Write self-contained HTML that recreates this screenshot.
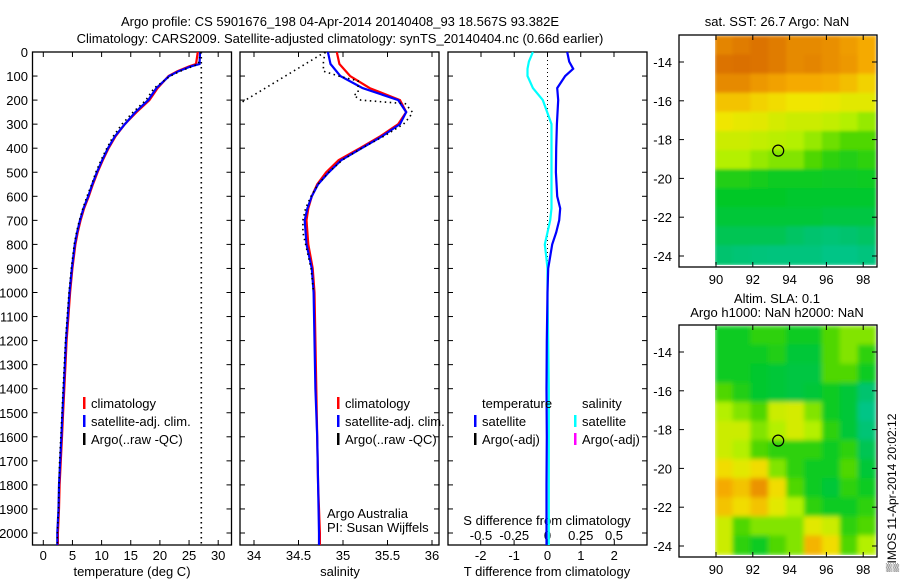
<!DOCTYPE html>
<html><head><meta charset="utf-8"><style>
body{margin:0;background:#fff;}
svg{display:block;font-family:"Liberation Sans",sans-serif;}
text{fill:#000;font-size:13px;}
</style></head><body>
<svg id="s" width="900" height="580" viewBox="0 0 900 580">
<text x="340" y="26" text-anchor="middle">Argo profile: CS 5901676_198 04-Apr-2014 20140408_93 18.567S 93.382E</text>
<text x="340" y="43" text-anchor="middle">Climatology: CARS2009. Satellite-adjusted climatology: synTS_20140404.nc (0.66d earlier)</text>
<text x="777" y="26" text-anchor="middle">sat. SST: 26.7 Argo: NaN</text>
<text x="777" y="303" text-anchor="middle">Altim. SLA: 0.1</text>
<text x="777" y="317" text-anchor="middle">Argo h1000: NaN h2000: NaN</text>
<text transform="translate(896,572) rotate(-90)" style="font-size:12px">▒IMOS 11-Apr-2014 20:02:12</text>
<g id="g"></g>
</svg>
<script>
// ---- data ----
const depthT = [0,50,60,80,100,150,200,250,300,350,400,450,500,550,600,650,700,750,800,900,1000,1100,1200,1300,1400,1500,1600,1700,1800,1900,2000,2050];
const tempClim = [26.5,26.2,25,23,21.5,19.6,18.2,16,14,12.4,11.2,10.2,9.3,8.5,7.8,7.0,6.4,5.9,5.5,5.0,4.6,4.3,4.0,3.8,3.6,3.4,3.2,3.0,2.8,2.7,2.5,2.5];
const tempSat = [26.9,26.8,25.3,23.2,21.6,19.4,18.0,15.8,14.0,12.3,11.1,10.1,9.2,8.4,7.7,6.9,6.3,5.8,5.4,4.9,4.5,4.2,3.9,3.7,3.5,3.3,3.1,2.9,2.7,2.6,2.4,2.4];
const tempArgo = [27.0,26.6,25.6,23.5,21.8,19.0,17.6,15.4,13.5,12.0,10.9,9.9,9.0,8.3,7.5,6.8,6.2,5.7,5.3,4.8,4.4,4.1,3.8,3.6,3.4,3.2,3.0,2.8,2.7,2.6,2.4,2.4];
const depthArgoQC = [0,2050];
const tempArgoQC = [27.1,27.1];
const depthS = [0,50,100,150,200,250,300,350,400,450,500,550,600,650,700,800,900,1000,1200,1400,1600,1800,2000,2050];
const salClim = [34.93,34.96,35.08,35.30,35.64,35.71,35.62,35.42,35.19,34.95,34.81,34.71,34.65,34.61,34.59,34.61,34.66,34.68,34.69,34.70,34.71,34.72,34.74,34.74];
const salSat = [34.83,34.86,34.97,35.22,35.62,35.71,35.64,35.44,35.21,34.98,34.84,34.72,34.65,34.60,34.57,34.59,34.65,34.67,34.68,34.69,34.71,34.72,34.73,34.73];
const depthSA = [0,40,80,100,120,170,180,200,215,250,270,300,350,400,450,500,550,600,650,700,750,800,900,1000];
const salArgo = [34.80,34.78,34.78,34.95,35.17,35.17,35.12,35.20,35.70,35.78,35.75,35.68,35.46,35.21,34.99,34.84,34.72,34.64,34.58,34.55,34.55,34.58,34.64,34.67];
const depthSRaw = [0,210];
const salRaw = [34.8,33.86];
const depthD = [0,40,70,100,150,200,300,400,500,600,650,700,750,800,850,900,1000,1200,1400,1600,1800,2000,2050];
const tDiff = [0.59,0.65,0.77,0.53,0.29,0.32,0.28,0.26,0.25,0.29,0.38,0.35,0.26,0.14,0.08,0.02,0.0,-0.02,-0.03,-0.02,-0.03,-0.03,-0.03];
const sDiff = [-0.11,-0.14,-0.15,-0.15,-0.11,-0.035,0.03,0.03,0.03,0.03,0.03,0.02,0.0,-0.02,-0.01,0.0,0.0,0.005,0.01,0.01,0.01,0.01,0.01];
const depthTicks = [0,100,200,300,400,500,600,700,800,900,1000,1100,1200,1300,1400,1500,1600,1700,1800,1900,2000];
const tTicks = [0,5,10,15,20,25,30];
const sTicks = [34,34.5,35,35.5,36];
const sTickLabels = ["34","34.5","35","35.5","36"];
const dTTicks = [-2,-1,0,1,2];
const dSTicks = [-0.5,-0.25,0,0.25,0.5];
const dSTickLabels = ["-0.5","-0.25","0","0.25","0.5"];
const lonTicks = [90,92,94,96,98];
const latTicks = [-14,-16,-18,-20,-22,-24];
const sstGrid = [
[.88,.9,.92,.9,.87,.87,.86,.83,.8],
[.92,.93,.92,.9,.87,.88,.86,.84,.8],
[.87,.87,.84,.82,.8,.8,.79,.76,.72],
[.75,.75,.72,.7,.68,.68,.67,.65,.65],
[.68,.66,.65,.62,.6,.6,.58,.55,.52],
[.6,.6,.58,.56,.55,.52,.48,.45,.45],
[.55,.55,.52,.5,.5,.45,.4,.38,.4],
[.38,.38,.36,.35,.35,.35,.34,.34,.35],
[.33,.33,.33,.33,.32,.32,.32,.32,.32],
[.3,.3,.3,.3,.3,.3,.28,.28,.28],
[.25,.25,.25,.25,.22,.2,.18,.2,.22],
[.2,.18,.16,.15,.15,.15,.12,.12,.15]];
const slaGrid = [
[.35,.35,.4,.4,.35,.35,.45,.5,.5],
[.35,.35,.35,.38,.3,.3,.45,.5,.4],
[.35,.35,.32,.3,.28,.28,.45,.45,.35],
[.45,.38,.32,.3,.28,.3,.35,.3,.2],
[.55,.5,.45,.6,.62,.5,.35,.3,.12],
[.6,.6,.5,.55,.62,.55,.4,.3,.18],
[.6,.55,.45,.4,.4,.4,.35,.4,.25],
[.7,.65,.7,.5,.4,.35,.35,.45,.3],
[.8,.75,.85,.7,.45,.35,.3,.4,.35],
[.75,.7,.75,.65,.55,.4,.35,.35,.4],
[.6,.45,.5,.5,.5,.65,.6,.4,.45],
[.6,.4,.35,.45,.5,.78,.7,.45,.55]];
const argoLon = [93.38];
const argoLat = [-18.57];

// ---- helpers ----
const NS="http://www.w3.org/2000/svg";
const G=document.getElementById('g');
function mk(tag,attrs,parent){const e=document.createElementNS(NS,tag);for(const k in attrs)e.setAttribute(k,attrs[k]);(parent||G).appendChild(e);return e;}
const Y=d=>52+d*0.2405;
const XT=t=>43.3+t*5.83;
const XS=s=>254+(s-34)*89;
const XDT=v=>547.5+v*33.4;
const XDS=v=>547.5+v*133;

function box(x0,x1,y0,y1,name){const r=mk('rect',{x:x0,y:y0,width:x1-x0,height:y1-y0,fill:'none',stroke:'#000','stroke-width':1.3});}
function line(xs,ds,xf,color,w,dash,name){
  const pts=ds.map((d,i)=>xf(xs[i]).toFixed(1)+','+Y(d).toFixed(1)).join(' ');
  const p=mk('polyline',{points:pts,fill:'none',stroke:color,'stroke-width':w});
  if(dash)p.setAttribute('stroke-dasharray',dash);
  
  
}
function txt(x,y,s,anchor,name,size){const t=mk('text',{x:x,y:y,'text-anchor':anchor||'start'});if(size)t.style.fontSize=size+'px';t.textContent=s;return t;}
function tick(x1,y1,x2,y2){const l=mk('line',{x1:x1,y1:y1,x2:x2,y2:y2,stroke:'#000','stroke-width':1});}

const TOP=52,BOT=545;
const panels=[[32.5,231.5],[240,439],[448,647]];
panels.forEach((p,i)=>{
  box(p[0],p[1],TOP,BOT,'profile-panel-'+(i+1));
  depthTicks.forEach(d=>{tick(p[0],Y(d),p[0]+5,Y(d));tick(p[1],Y(d),p[1]-5,Y(d));});
});
depthTicks.forEach(d=>txt(28,Y(d)+5,String(d),'end','depth-tick-label'));
// panel 1
tTicks.forEach(t=>{tick(XT(t),BOT,XT(t),BOT-5);tick(XT(t),TOP,XT(t),TOP+5);txt(XT(t),560,String(t),'middle','temp-tick-label');});
txt(132,576,'temperature (deg C)','middle','temp-axis-title');
line(tempArgoQC,depthArgoQC,XT,'#000',1.6,'1.5,3.5','argo-qc-temp-line');
line(tempClim,depthT,XT,'#f00',2.2,null,'temp-climatology-line');
line(tempSat,depthT,XT,'#00f',2.2,null,'temp-satellite-line');
line(tempArgo,depthT,XT,'#000',1.6,'1.5,3.5','temp-argo-line');
// panel 2
sTicks.forEach((s,i)=>{tick(XS(s),BOT,XS(s),BOT-5);tick(XS(s),TOP,XS(s),TOP+5);txt(XS(s),560,sTickLabels[i],'middle','sal-tick-label');});
txt(340,576,'salinity','middle','sal-axis-title');
line(salRaw,depthSRaw,XS,'#000',1.6,'1.5,3.5','sal-argo-raw-line');
line(salClim,depthS,XS,'#f00',2.2,null,'sal-climatology-line');
line(salSat,depthS,XS,'#00f',2.2,null,'sal-satellite-line');
line(salArgo,depthSA,XS,'#000',1.6,'1.5,3.5','sal-argo-line');
txt(327,518,'Argo Australia','start','credit-line-1');
txt(327,532,'PI: Susan Wijffels','start','credit-line-2');
// panel 3
dTTicks.forEach(v=>{tick(XDT(v),BOT,XDT(v),BOT-5);txt(XDT(v),560,String(v),'middle','tdiff-tick-label');});
dSTicks.forEach((v,i)=>{tick(XDS(v),TOP,XDS(v),TOP+5);txt(XDS(v),540,dSTickLabels[i],'middle','sdiff-tick-label');});
txt(547,525,'S difference from climatology','middle','sdiff-axis-title');
txt(547,576,'T difference from climatology','middle','tdiff-axis-title');
line([0,0],[0,880],XDT,'#000',1,'1,3','zero-line');
line(sDiff,depthD,XDS,'#0ff',2.2,null,'sdiff-satellite-line');
line(tDiff,depthD,XDT,'#00f',2.2,null,'tdiff-satellite-line');
// legends
function leg(mx,tx,y,color,label,name){const r=mk('rect',{x:mx-1,y:y-11,width:2.5,height:12,fill:color});txt(tx,y,label,'start',name);}
[[84,91],[338,345]].forEach(([m,t],i)=>{
  leg(m,t,408,'#f00','climatology','legend-climatology-'+(i+1));
  leg(m,t,426,'#00f','satellite-adj. clim.','legend-satellite-'+(i+1));
  leg(m,t,444,'#000','Argo(..raw -QC)','legend-argo-'+(i+1));
});
txt(482,408,'temperature','start','legend-temperature-heading');
txt(582,408,'salinity','start','legend-salinity-heading');
leg(475,482,426,'#00f','satellite','legend-t-satellite');
leg(475,482,444,'#000','Argo(-adj)','legend-t-argo');
leg(575,582,426,'#0ff','satellite','legend-s-satellite');
leg(575,582,444,'#f0f','Argo(-adj)','legend-s-argo');

// ---- maps ----
function cmap(v){
  const stops=[[0,[0,200,170]],[0.2,[0,195,110]],[0.33,[0,200,40]],[0.45,[80,215,0]],[0.55,[180,240,0]],[0.68,[240,230,0]],[0.8,[245,170,0]],[0.92,[220,115,0]],[1,[200,90,0]]];
  for(let i=1;i<stops.length;i++){if(v<=stops[i][0]){const a=stops[i-1],b=stops[i],f=(v-a[0])/(b[0]-a[0]);return 'rgb('+a[1].map((c,j)=>Math.round(c+(b[1][j]-c)*f)).join(',')+')';}}
  return 'rgb(200,90,0)';
}
function map(y0,y1,grid,name,lat14,lat24,blur){
  const X=l=>716+(l-90)*18.4;
  const LY=la=>lat14+(la+14)*(lat24-lat14)/(-10);
  const gx0=715,gx1=876,gy0=y0+1,gy1=y1-2;
  const rows=grid.length,cols=grid[0].length;
  const cw=(gx1-gx0)/cols,ch=(gy1-gy0)/rows;
  const clip=mk('clipPath',{id:'c'+name});mk('rect',{x:gx0,y:gy0,width:gx1-gx0,height:gy1-gy0},clip);
  const g=mk('g',{'clip-path':'url(#c'+name+')'});
  const gi=mk('g',blur?{filter:'url(#b'+name+')'}:{},g);
  if(blur){const f=mk('filter',{id:'b'+name,x:'-10%',y:'-10%',width:'120%',height:'120%'});mk('feGaussianBlur',{stdDeviation:blur},f);}
  grid.forEach((row,r)=>row.forEach((v,c)=>{
    const e=mk('rect',{x:gx0+c*cw-0.5,y:gy0+r*ch-0.5,width:cw+1,height:ch+1,fill:cmap(v)},gi);
    
    
  }));
  box(679,877,y0,y1,name+'-axes');
  lonTicks.forEach(l=>{tick(X(l),y1,X(l),y1-5);tick(X(l),y0,X(l),y0+5);txt(X(l),y1+17,String(l),'middle',name+'-lon-label');});
  latTicks.forEach(la=>{tick(679,LY(la),684,LY(la));tick(877,LY(la),872,LY(la));txt(672,LY(la)+5,String(la),'end',name+'-lat-label');});
  const c=mk('circle',{cx:X(argoLon[0]),cy:LY(argoLat[0]),r:5.5,fill:'none',stroke:'#000','stroke-width':1.2});
  
  
}
map(35,267,sstGrid,'sst-map',62,256,1.5);
map(325,557,slaGrid,'sla-map',352,546,2.5);
</script>
</body></html>
